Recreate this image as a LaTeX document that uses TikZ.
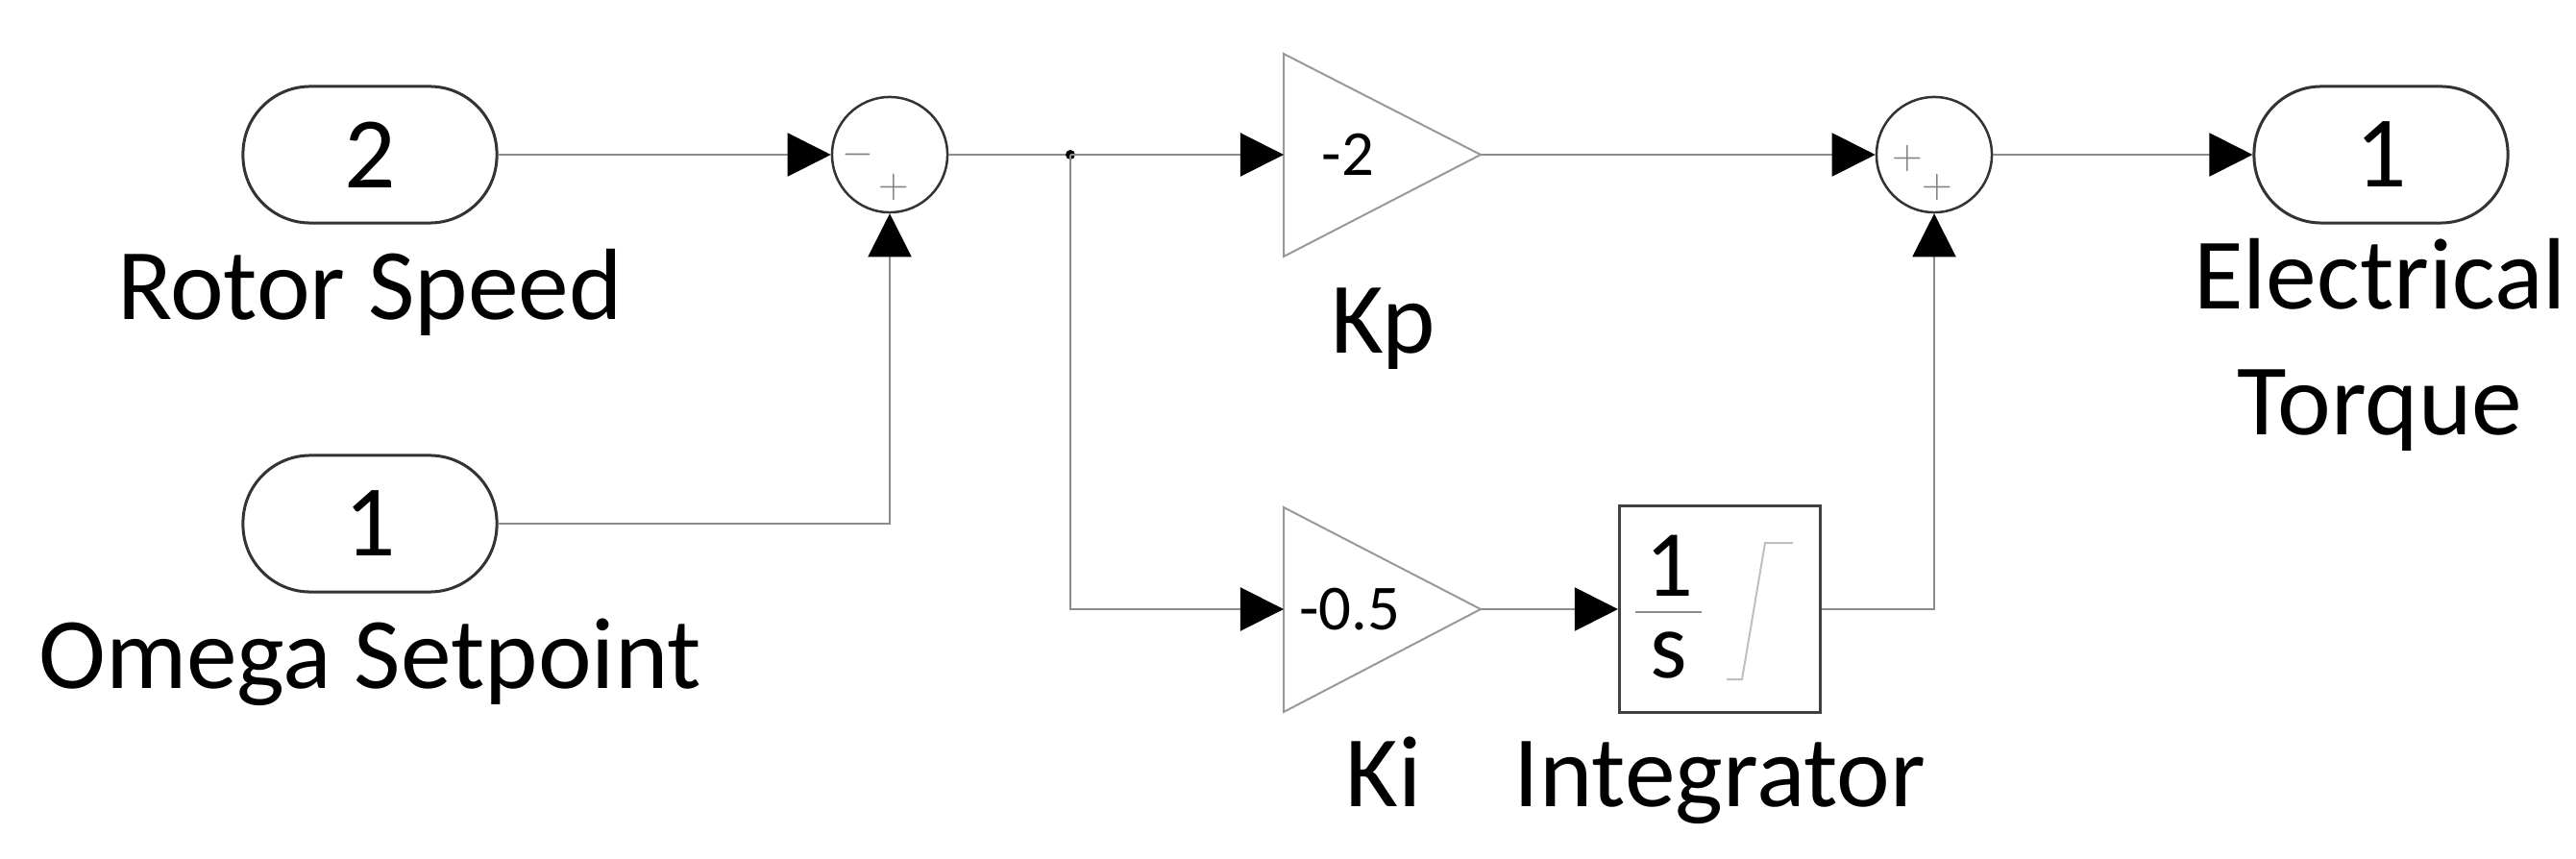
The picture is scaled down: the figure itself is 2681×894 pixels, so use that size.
\documentclass[tikz,border=0pt]{standalone}
\usepackage{fontspec}
\setmainfont{Carlito}
\usetikzlibrary{arrows.meta,positioning}

\tikzset{
  sig/.style={draw=black!45, line width=0.02cm, -{Triangle[length=0.45cm,width=0.45cm,black]}},
  wire/.style={draw=black!45, line width=0.02cm},
  port/.style={draw=black!80, line width=0.03cm, rounded corners=0.7cm, minimum width=2.64cm, minimum height=1.42cm, inner sep=0pt, font=\fontsize{30}{30}\selectfont},
  summer/.style={draw=black!80, line width=0.025cm, circle, minimum size=1.2cm, inner sep=0pt},
  lbl/.style={font=\fontsize{30}{37}\selectfont, align=center, inner sep=0pt},
  sgn/.style={font=\fontsize{12}{12}\selectfont, text=black!50, inner sep=0pt},
}

\begin{document}
\begin{tikzpicture}[x=0.01cm, y=-0.01cm]
\useasboundingbox (0,0) rectangle (2681,894);

% inports and outport
\node[port] (speed) at (385,161) {2};
\node[lbl, anchor=base] (speedlbl) at (385,333) {Rotor Speed};
\node[port] (omega) at (385,545) {1};
\node[lbl, anchor=base] (omegalbl) at (385,716) {Omega Setpoint};
\node[port] (torque) at (2478,161) {1};
\node[lbl, anchor=north] (torquelbl) at (2477,248) {Electrical\\Torque};

% sums
\node[summer] (sumerr) at (926,161) {};
\node[sgn] at (893,161) {$-$};
\node[sgn] at (930,195) {$+$};
\node[summer] (sumout) at (2013,161) {};
\node[sgn] at (1985,165) {$+$};
\node[sgn] at (2016,195) {$+$};

% gains
\draw[draw=black!40, line width=0.02cm] (1336,56) -- (1541,161) -- (1336,267) -- cycle;
\coordinate (kpin) at (1336,161); \coordinate (kpout) at (1541,161);
\node[font=\fontsize{19}{19}\selectfont] (kpval) at (1403,161) {-2};
\node[lbl, anchor=base] (kplbl) at (1440,367) {Kp};
\draw[draw=black!40, line width=0.02cm] (1336,528) -- (1541,634) -- (1336,741) -- cycle;
\coordinate (kiin) at (1336,634); \coordinate (kiout) at (1541,634);
\node[font=\fontsize{19}{19}\selectfont] (kival) at (1405,634) {-0.5};
\node[lbl, anchor=base] (kilbl) at (1440,839) {Ki};

% integrator
\node[draw=black!75, line width=0.03cm, minimum width=2.09cm, minimum height=2.14cm, inner sep=0pt] (integ) at (1790,634) {};
\node[font=\fontsize{28}{28}\selectfont, anchor=base, inner sep=0pt] (one) at (1737,620) {1};
\node[font=\fontsize{28}{28}\selectfont, anchor=base, inner sep=0pt] (ess) at (1737,705) {s};
\draw[wire] (1702,637) -- (1771,637);
\draw[draw=black!25, line width=0.02cm] (1797,707) -- (1813,707) -- (1837,565) -- (1866,565);
\node[lbl, anchor=base] (integlbl) at (1790,839) {Integrator};

% connections
\coordinate (branch) at (1114,161);
\draw[sig] (speed) -- (sumerr);
\draw[sig] (omega.east) -| (sumerr.south);
\draw[wire] (sumerr) -- (branch);
\fill (branch) circle (5);
\draw[sig] (branch) -- (kpin);
\draw[sig] (branch) |- (kiin);
\draw[sig] (kpout) -- (sumout);
\draw[sig] (kiout) -- (integ);
\draw[sig] (integ.east) -| (sumout.south);
\draw[sig] (sumout) -- (torque);

\end{tikzpicture}
\end{document}
